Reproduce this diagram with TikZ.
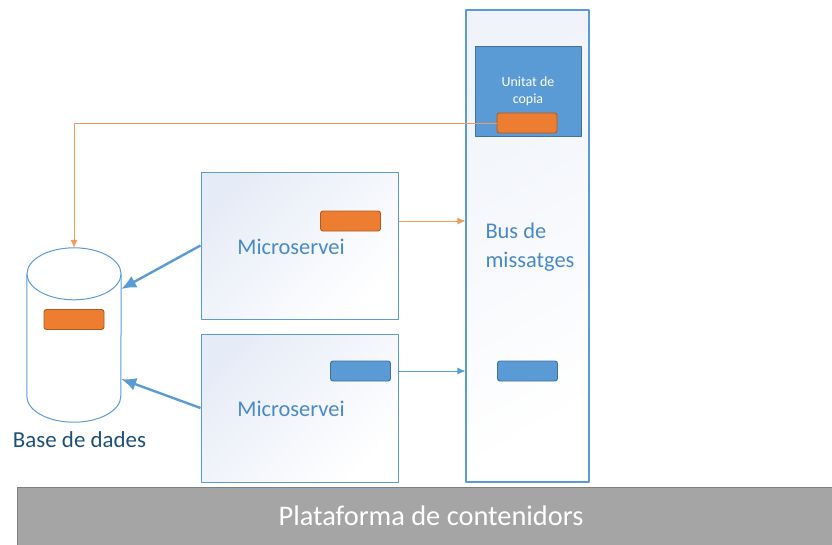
\documentclass[tikz,border=0pt]{standalone}
\usepackage{fontspec}
\setmainfont{Carlito}
\usetikzlibrary{calc,arrows.meta}
\definecolor{msblue}{HTML}{5B9BD5}
\definecolor{msdark}{HTML}{41719C}
\definecolor{mstext}{HTML}{4A89C8}
\definecolor{msorange}{HTML}{ED7D31}
\definecolor{msorangedk}{HTML}{AE5A21}
\definecolor{msorangelt}{HTML}{F19A5E}
\definecolor{dbtext}{HTML}{1F4E79}
\definecolor{platgray}{HTML}{A5A5A5}
\definecolor{platline}{HTML}{7F7F7F}
\definecolor{paleblue}{HTML}{E6ECF7}
\begin{document}
\begin{tikzpicture}[line join=bevel,
  svcbox/.style={draw=msblue,line width=1bp,top color=paleblue,bottom color=white,shading angle=45},
  busbox/.style={draw=msblue,line width=1.2bp,top color=paleblue!60,bottom color=white,shading angle=30},
  tagbox/.style={rounded corners=2.5bp,minimum width=60bp,minimum height=20bp,line width=0.9bp},
  orangetag/.style={tagbox,fill=msorange,draw=msorangedk},
  bluetag/.style={tagbox,fill=msblue,draw=msdark},
  svclabel/.style={text=mstext,font=\fontsize{22.5}{26}\selectfont},
  fatarrow/.style={msblue,line width=2.4bp,-{Latex[length=15bp,width=13bp]}},
  thinarrow/.style={line width=0.8bp,-{Latex[length=8bp,width=7bp]}},
]
\useasboundingbox (0bp,0bp) rectangle (832bp,-545bp);
%%
\node (bus) at (527.5bp,-246bp) [busbox,minimum width=123bp,minimum height=472bp] {};
  \node (copy) at (528bp,-91bp) [fill=msblue,draw=msdark,line width=1bp,minimum width=106bp,minimum height=90bp,
    text=white,align=center,font=\fontsize{14}{17}\selectfont] {Unitat de\\copia};
  \node (copytag) at (527bp,-123bp) [orangetag] {};
  \node (buslabel) at (482bp,-247bp) [anchor=west,align=left,svclabel,font=\fontsize{22.5}{29}\selectfont] {Bus de\\missatges};
  \node (tag3) at (527.5bp,-371bp) [bluetag] {};
%
\node (svc1) at (299.5bp,-245.5bp) [svcbox,minimum width=197bp,minimum height=147bp] {};
  \node (svc1label) at (291bp,-247bp) [svclabel] {Microservei};
  \node (tag1) at (350.5bp,-221bp) [orangetag] {};
\node (svc2) at (299.5bp,-408bp) [svcbox,minimum width=197bp,minimum height=148bp] {};
  \node (svc2label) at (291bp,-409bp) [svclabel] {Microservei};
  \node (tag2) at (360.5bp,-371bp) [bluetag] {};
%
\node (db) at (74bp,-335bp) [minimum width=94bp,minimum height=174bp] {};
  \draw [msblue,line width=1bp,fill=white] ($(db.north west)+(0,-26bp)$) -- ($(db.south west)+(0,26bp)$)
    arc [start angle=180,end angle=360,x radius=47bp,y radius=26bp] -- ($(db.north east)+(0,-26bp)$);
  \draw [msblue,line width=1bp,fill=white] ($(db.north)+(0,-26bp)$) ellipse [x radius=47bp,y radius=26bp];
  \node (dbtag) at (74bp,-319.5bp) [orangetag] {};
  \node (dblabel) at (79.5bp,-440bp) [text=dbtext,font=\fontsize{23}{26}\selectfont] {Base de dades};
%
\node (plat) at (425bp,-516bp) [fill=platgray,draw=platline,line width=1bp,minimum width=816bp,minimum height=58bp,
  text=white,font=\fontsize{28.5}{32}\selectfont] {\hspace*{12bp}Plataforma de contenidors};
%%
\draw [msorangelt,thinarrow] (copytag.west) -| (db.north);
  \draw [msorangelt,thinarrow] (svc1.east |- tag1) -- (bus.west |- tag1);
  \draw [msblue,thinarrow] (svc2.east |- tag2) -- (bus.west |- tag2);
  \draw [fatarrow] (svc1.west) -- ($(db.east)+(0,46bp)$);
  \draw [fatarrow] (svc2.west) -- ($(db.east)+(0,-44bp)$);
%
\end{tikzpicture}
\end{document}
